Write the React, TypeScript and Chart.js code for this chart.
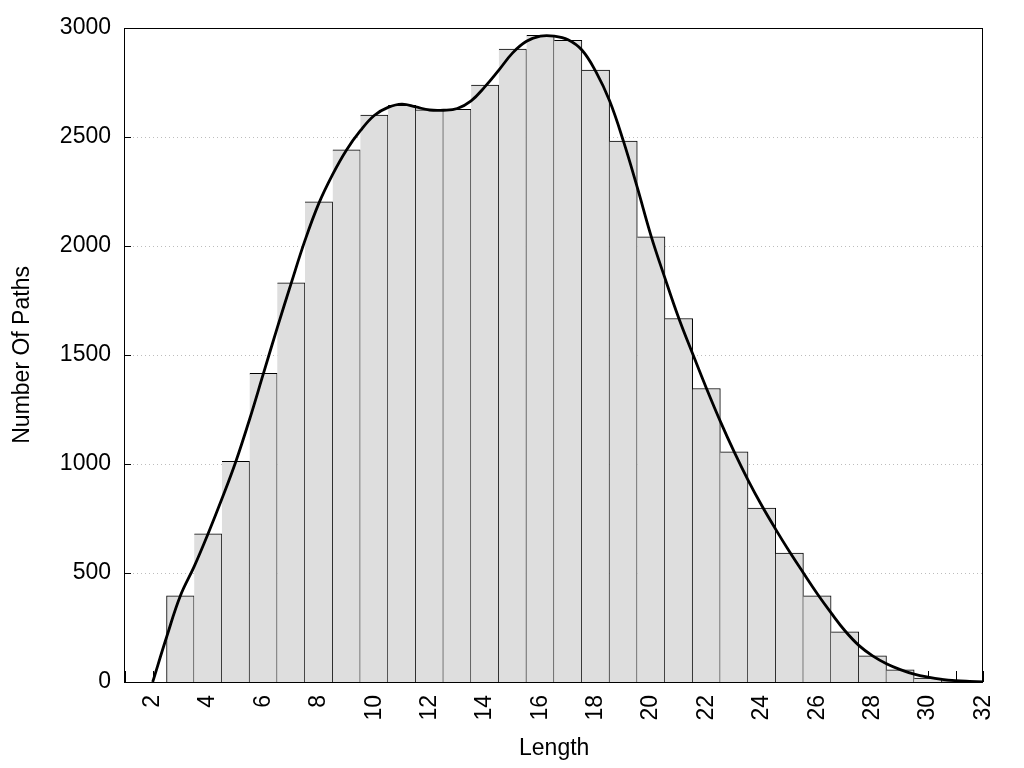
import React, { useEffect, useRef } from 'react';
import { Chart, registerables } from 'chart.js';

Chart.register(...registerables);

// Histogram bars (centre of each unit-wide bin)
const barLengths = [3, 4, 5, 6, 7, 8, 9, 10, 11, 12, 13, 14, 15, 16, 17, 18, 19, 20, 21, 22, 23, 24, 25, 26, 27, 28, 29, 30, 31];
const barCounts = [395, 680, 1012, 1415, 1831, 2202, 2440, 2600, 2645, 2624, 2626, 2737, 2902, 2966, 2943, 2806, 2481, 2042, 1667, 1346, 1055, 798, 591, 395, 230, 120, 56, 18, 3];

// Smoothed density curve
const curveLengths = [2, 2.5, 3, 3.5, 4, 4.5, 5, 5.5, 6, 6.5, 7, 7.5, 8, 8.5, 9, 9.5, 10, 10.5, 11, 11.5, 12, 12.5, 13, 13.5, 14, 14.5, 15, 15.5, 16, 16.5, 17, 17.5, 18, 18.5, 19, 19.5, 20, 20.5, 21, 21.5, 22, 22.5, 23, 23.5, 24, 24.5, 25, 25.5, 26, 26.5, 27, 27.5, 28, 28.5, 29, 29.5, 30, 30.5, 31, 31.5, 32];
const curveCounts = [0, 205, 395, 530, 680, 840, 1010, 1205, 1415, 1625, 1828, 2025, 2195, 2328, 2440, 2528, 2598, 2635, 2650, 2637, 2623, 2622, 2630, 2665, 2730, 2806, 2885, 2938, 2962, 2962, 2945, 2898, 2800, 2665, 2480, 2268, 2045, 1852, 1668, 1505, 1346, 1195, 1055, 926, 808, 700, 597, 500, 405, 317, 235, 168, 120, 84, 57, 36, 22, 12, 6, 3, 1];

const xTickValues = [2, 4, 6, 8, 10, 12, 14, 16, 18, 20, 22, 24, 26, 28, 30, 32];
const yTickValues = [0, 500, 1000, 1500, 2000, 2500, 3000];
const xMin = 1;
const xMax = 32;
const yMin = 0;
const yMax = 3000;
const xTitle = 'Length';
const yTitle = 'Number Of Paths';

const FONT = 'Liberation Sans, Arial, sans-serif';

const framePlugin = {
  id: 'frameAndGrid',
  beforeDatasetsDraw(chart: any) {
    const { ctx, chartArea: a, scales } = chart;
    const x = scales.x;
    const y = scales.y;
    ctx.save();
    ctx.strokeStyle = '#bdbdbd';
    ctx.lineWidth = 1;
    ctx.setLineDash([1, 3]);
    for (const v of yTickValues) {
      if (v === yMin || v === yMax) continue;
      const py = Math.round(y.getPixelForValue(v)) + 0.5;
      ctx.beginPath();
      ctx.moveTo(a.left, py);
      ctx.lineTo(a.right, py);
      ctx.stroke();
    }
    ctx.setLineDash([]);
    ctx.strokeStyle = '#000';
    for (let v = xMin; v <= xMax; v += 1) {
      const px = Math.round(x.getPixelForValue(v)) + 0.5;
      ctx.beginPath();
      ctx.moveTo(px, a.bottom);
      ctx.lineTo(px, a.bottom - 11);
      ctx.stroke();
    }
    ctx.restore();
  },
  afterDatasetsDraw(chart: any) {
    const { ctx, chartArea: a, scales } = chart;
    const y = scales.y;
    ctx.save();
    ctx.strokeStyle = '#000';
    ctx.lineWidth = 1;
    for (const v of yTickValues) {
      const py = Math.round(y.getPixelForValue(v)) + 0.5;
      ctx.beginPath();
      ctx.moveTo(a.left, py);
      ctx.lineTo(a.left + 6, py);
      ctx.stroke();
    }
    ctx.strokeRect(Math.round(a.left) - 0.5, Math.round(a.top) + 0.5, Math.round(a.right - a.left), Math.round(a.bottom - a.top));
    ctx.restore();
  },
};

export default function App() {
  const ref = useRef<HTMLCanvasElement>(null);

  useEffect(() => {
    if (!ref.current) return;
    const chart = new Chart(ref.current, {
      type: 'bar',
      data: {
        datasets: [
          {
            type: 'line',
            label: 'density',
            data: curveLengths.map((v, i) => ({ x: v, y: curveCounts[i] })),
            borderColor: '#000',
            borderWidth: 2.8,
            pointRadius: 0,
            tension: 0.4,
            fill: false,
            order: 0,
          } as any,
          {
            type: 'bar',
            label: 'paths',
            data: barLengths.map((v, i) => ({ x: v, y: barCounts[i] })),
            backgroundColor: '#dedede',
            borderColor: '#000',
            borderWidth: (c: any) => ({ left: c.dataIndex === 0 ? 1 : 0, right: 1, top: 1, bottom: 0 }),
            borderSkipped: false,
            barPercentage: 1,
            categoryPercentage: 1,
            order: 1,
          } as any,
        ],
      },
      options: {
        responsive: false,
        animation: false,
        layout: { padding: { top: 27, right: 39, left: 0, bottom: 0 } },
        plugins: {
          legend: { display: false },
          tooltip: { enabled: false },
        },
        scales: {
          x: {
            type: 'linear',
            min: xMin,
            max: xMax,
            offset: false,
            grid: { display: false, drawTicks: false },
            border: { display: false },
            afterBuildTicks: (s: any) => {
              s.ticks = xTickValues.map((v) => ({ value: v }));
            },
            afterFit: (s: any) => {
              s.height = 86;
            },
            ticks: {
              autoSkip: false,
              minRotation: 90,
              maxRotation: 90,
              padding: 13,
              color: '#000',
              font: { family: FONT, size: 23 },
              callback: (v: any) => String(v),
            },
            title: {
              display: true,
              text: xTitle,
              color: '#000',
              font: { family: FONT, size: 23 },
              padding: { top: 0, bottom: 6 },
            },
          },
          y: {
            type: 'linear',
            min: yMin,
            max: yMax,
            grid: { display: false, drawTicks: false },
            border: { display: false },
            afterBuildTicks: (s: any) => {
              s.ticks = yTickValues.map((v) => ({ value: v }));
            },
            afterFit: (s: any) => {
              s.width = 125;
            },
            ticks: {
              padding: 14,
              color: '#000',
              font: { family: FONT, size: 23 },
              callback: (v: any) => String(v),
            },
            title: {
              display: true,
              text: yTitle,
              color: '#000',
              font: { family: FONT, size: 23 },
              padding: { top: 9, bottom: 0 },
            },
          },
        },
      } as any,
      plugins: [framePlugin],
    });
    return () => chart.destroy();
  }, []);

  return (
    <div style={{ position: 'fixed', left: 0, top: 0, width: 1024, height: 768, background: '#fff' }}>
      <canvas ref={ref} width={1024} height={768} style={{ display: 'block', width: 1024, height: 768 }} />
    </div>
  );
}
